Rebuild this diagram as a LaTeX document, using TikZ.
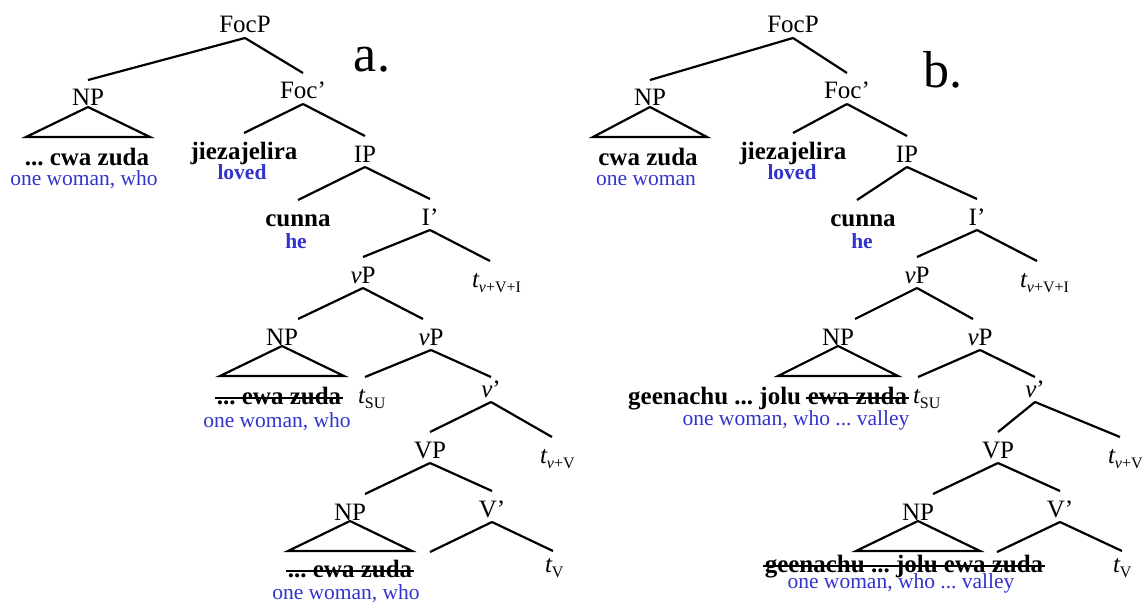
\documentclass[tikz,border=0pt]{standalone}
\usepackage{fontspec}
\setmainfont{Liberation Serif}
\definecolor{glossblue}{RGB}{51,51,204}
% subscript of a trace
\newcommand{\trsub}[1]{\raisebox{-5pt}{\fontsize{16}{18}\selectfont #1}}
\newcommand{\tr}[1]{{\itshape t}\trsub{#1}}
\tikzset{
  cat/.style={font=\fontsize{25}{30}\selectfont, inner sep=0pt, outer xsep=0pt,
              outer ysep=5pt, text height=21pt, text depth=0pt, anchor=base},
  trace/.style={cat, anchor=base west},
  word/.style={font=\fontsize{25}{30}\selectfont\bfseries, inner sep=0pt, anchor=base},
  gloss/.style={font=\fontsize{21.5}{26}\selectfont, text=glossblue, inner sep=0pt, anchor=base},
  boldgloss/.style={font=\fontsize{21.5}{26}\selectfont\bfseries, text=glossblue, inner sep=0pt, anchor=base},
  branch/.style={line width=2.2pt},
  strike/.style={line width=2pt, shorten <=-1.5pt, shorten >=-1.5pt},
  tag/.style={font=\fontsize{52}{60}\selectfont, inner sep=0pt, anchor=base},
}
\frenchspacing
\begin{document}
\frenchspacing
\begin{tikzpicture}[x=1pt, y=-1pt]
\useasboundingbox (0,0) rectangle (1146,602);

% ---------------- tree a ----------------
\node[tag] (taga) at (372,72) {a.};
\node[cat] (focpa) at (245,33) {FocP};
\node[cat] (npa) at (88,106) {NP};
\node[cat] (foca) at (303,99) {Foc’};
\node[word] (wa1) at (87,165) {... cwa zuda};
\node[gloss] (ga1) at (84,185) {one woman, who};
\node[cat] (jieza) at (244,159) {\bfseries jiezajelira};
\node[boldgloss] (lovea) at (242,179) {loved};
\node[cat] (ipa) at (365,162) {IP};
\node[cat] (cunnaa) at (298,226) {\bfseries cunna};
\node[boldgloss] (hea) at (296,248) {he};
\node[cat] (ia) at (430,225) {I’};
\node[cat] (vpa) at (363,283) {\textit{v}P};
\node[trace] (tvvia) at (472,287) {\tr{\textit{v}+V+I}};
\node[cat] (npa2) at (282,345) {NP};
\node[cat] (vpa2) at (431,345) {\textit{v}P};
\node[word] (wa2) at (279,404) {... ewa zuda};
\node[gloss] (ga2) at (277,427) {one woman, who};
\node[trace] (tsua) at (358,403) {\tr{SU}};
\node[cat] (vbara) at (491,397) {\textit{v}’};
\node[cat] (vpba) at (430,458) {VP};
\node[trace] (tvva) at (540,463) {\tr{\textit{v}+V}};
\node[cat] (npa3) at (350,520) {NP};
\node[cat] (vba) at (492,517) {V’};
\node[word] (wa3) at (350,577) {... ewa zuda};
\node[gloss] (ga3) at (346,599) {one woman, who};
\node[trace] (tva) at (545,572) {\tr{V}};
\coordinate (ea) at (430,552);

\draw[branch] (focpa.south) -- (npa.north);
\draw[branch] (focpa.south) -- (foca.north);
\draw[branch] (foca.south) -- (jieza.north);
\draw[branch] (foca.south) -- (ipa.north);
\draw[branch] (ipa.south) -- (cunnaa.north);
\draw[branch] (ipa.south) -- (ia.north);
\draw[branch] (ia.south) -- (vpa.north);
\draw[branch] (ia.south) -- ([xshift=18pt]tvvia.north west);
\draw[branch] (vpa.south) -- ([xshift=16pt]npa2.north);
\draw[branch] (vpa.south) -- ([xshift=-8pt]vpa2.north);
\draw[branch] (vpa2.south) -- ([xshift=7pt]tsua.north west);
\draw[branch] (vpa2.south) -- ([yshift=-6pt]vbara.north);
\draw[branch] (vbara.south) -- (vpba.north);
\draw[branch] (vbara.south) -- ([xshift=12pt]tvva.north west);
\draw[branch] (vpba.south) -- ([xshift=15pt]npa3.north);
\draw[branch] (vpba.south) -- (vba.north);
\draw[branch] (vba.south) -- (ea);
\draw[branch] (vba.south) -- ([xshift=8pt,yshift=-5pt]tva.north west);
% roof triangles
\draw[branch] ([yshift=4pt]npa.south) -- ++(-62,30) -- ++(124,0) -- cycle;
\draw[branch] ([yshift=4pt]npa2.south) -- ++(-62,30) -- ++(124,0) -- cycle;
\draw[branch] ([yshift=4pt]npa3.south) -- ++(-62,30) -- ++(124,0) -- cycle;
% deleted copies
\draw[strike] ([yshift=6pt]wa2.base west) -- ([yshift=6pt]wa2.base east);
\draw[strike] ([yshift=6pt]wa3.base west) -- ([yshift=6pt]wa3.base east);

% ---------------- tree b ----------------
\node[tag] (tagb) at (943,88) {b.};
\node[cat] (focpb) at (793,33) {FocP};
\node[cat] (npb) at (650,106) {NP};
\node[cat] (focb) at (847,99) {Foc’};
\node[word] (wb1) at (648,165) {cwa zuda};
\node[gloss] (gb1) at (646,185) {one woman};
\node[cat] (jiezb) at (793,159) {\bfseries jiezajelira};
\node[boldgloss] (loveb) at (792,179) {loved};
\node[cat] (ipb) at (907,162) {IP};
\node[cat] (cunnab) at (863,226) {\bfseries cunna};
\node[boldgloss] (heb) at (862,248) {he};
\node[cat] (ib) at (977,225) {I’};
\node[cat] (vpb) at (917,283) {\textit{v}P};
\node[trace] (tvvib) at (1020,287) {\tr{\textit{v}+V+I}};
\node[cat] (npb2) at (838,345) {NP};
\node[cat] (vpb2) at (980,345) {\textit{v}P};
\node[word, anchor=base west] (wb2) at (628,404) {geenachu ... jolu};
\node[word, anchor=base west] (wb2s) at ([xshift=6.25pt]wb2.base east) {ewa zuda};
\node[gloss] (gb2) at (796,425) {one woman, who ... valley};
\node[trace] (tsub) at (913,403) {\tr{SU}};
\node[cat] (vbarb) at (1035,397) {\textit{v}’};
\node[cat] (vpbb) at (998,458) {VP};
\node[trace] (tvvb) at (1108,463) {\tr{\textit{v}+V}};
\node[cat] (npb3) at (918,520) {NP};
\node[cat] (vbb) at (1060,517) {V’};
\node[word] (wb3) at (904,572) {geenachu ... jolu ewa zuda};
\node[gloss] (gb3) at (901,588) {one woman, who ... valley};
\node[trace] (tvb) at (1113,572) {\tr{V}};
\coordinate (eb) at (997,552);

\draw[branch] (focpb.south) -- (npb.north);
\draw[branch] (focpb.south) -- (focb.north);
\draw[branch] (focb.south) -- (jiezb.north);
\draw[branch] (focb.south) -- (ipb.north);
\draw[branch] (ipb.south) -- ([xshift=-6pt]cunnab.north);
\draw[branch] (ipb.south) -- (ib.north);
\draw[branch] (ib.south) -- (vpb.north);
\draw[branch] (ib.south) -- ([xshift=17pt]tvvib.north west);
\draw[branch] (vpb.south) -- ([xshift=17pt]npb2.north);
\draw[branch] (vpb.south) -- ([xshift=-7pt]vpb2.north);
\draw[branch] (vpb2.south) -- ([xshift=5pt]tsub.north west);
\draw[branch] (vpb2.south) -- ([yshift=-6pt]vbarb.north);
\draw[branch] (vbarb.south) -- (vpbb.north);
\draw[branch] (vbarb.south) -- ([xshift=12pt]tvvb.north west);
\draw[branch] (vpbb.south) -- ([xshift=15pt]npb3.north);
\draw[branch] (vpbb.south) -- (vbb.north);
\draw[branch] (vbb.south) -- (eb);
\draw[branch] (vbb.south) -- ([xshift=9pt,yshift=-5pt]tvb.north west);
% roof triangles
\draw[branch] ([yshift=4pt]npb.south) -- ++(-57,30) -- ++(114,0) -- cycle;
\draw[branch] ([yshift=4pt]npb2.south) -- ++(-60,30) -- ++(120,0) -- cycle;
\draw[branch] ([yshift=4pt]npb3.south) -- ++(-62,30) -- ++(124,0) -- cycle;
% deleted copies
\draw[strike] ([yshift=6pt]wb2s.base west) -- ([yshift=6pt]wb2s.base east);
\draw[strike] ([yshift=6pt]wb3.base west) -- ([yshift=6pt]wb3.base east);
\end{tikzpicture}
\end{document}
